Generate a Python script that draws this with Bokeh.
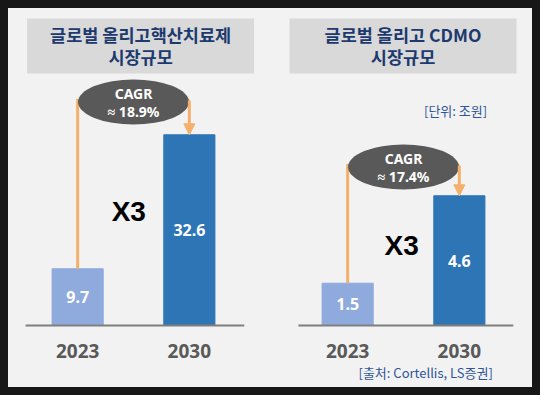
import re
from bokeh.plotting import figure
from bokeh.models import FactorRange, Range1d, Arrow, NormalHead, Title
from bokeh.layouts import row
from bokeh.embed import file_html
from bokeh.resources import INLINE
from bokeh.core.properties import value

# ---- data ----
years = ["2023", "2030"]
olig_values = [9.7, 32.6]
cdmo_values = [1.5, 4.6]
olig_cagr = ["CAGR", "≈ 18.9%"]
cdmo_cagr = ["CAGR", "≈ 17.4%"]
olig_title = ["글로벌 올리고핵산치료제", "시장규모"]
cdmo_title = ["글로벌 올리고 CDMO", "시장규모"]
multiplier = "X3"
unit_note = "[단위: 조원]"
source_note = "[출처: Cortellis, LS증권]"

# ---- styles ----
BAR_COLORS = ["#8faadc", "#2e75b6"]
ORANGE = "#f4b06a"
ELLIPSE = "#595959"
BG = "#f2f2f2"
TITLE_BG = "#d9d9d9"
NAVY = "#1c3a6e"
NOTE = "#2f5597"
KR = "Noto Sans CJK KR"

W, H = 262, 379
FRAME_W = 250
PAD = 0.119
PX = FRAME_W / (len(years) + PAD)
BASE = 317
BOTTOM = 60


def make_panel(vals, title_lines, ymax, left_border, cagr, line_fy, x3_fxy,
               unit=None, source=None, base_from=11, base_to=242):
    k = BASE / ymax

    def xd(fx):
        return (fx - left_border) / PX - PAD / 2

    def yd(fy):
        return (BASE - fy) / k

    p = figure(width=W, height=H, output_backend="svg", toolbar_location=None,
               x_range=FactorRange(*years, range_padding=PAD, range_padding_units="absolute"),
               y_range=Range1d(-2 / k, ymax),
               min_border_left=left_border, min_border_right=W - left_border - FRAME_W,
               min_border_top=0, min_border_bottom=BOTTOM,
               background_fill_color=BG, border_fill_color=BG, outline_line_color=None)
    p.yaxis.visible = False
    p.grid.visible = False
    ax = p.xaxis[0]
    ax.axis_line_color = None
    ax.major_tick_line_color = None
    ax.minor_tick_line_color = None
    ax.major_label_standoff = 10
    ax.major_label_text_font = "Noto Sans"
    ax.major_label_text_font_style = "bold"
    ax.major_label_text_font_size = "19px"
    ax.major_label_text_color = "#595959"

    # title box
    p.rect(x=[xd(132.5)], y=[yd(37.5)], width=227, height=55,
           width_units="screen", height_units="screen",
           fill_color=TITLE_BG, line_color=None)
    p.text(x=[xd(132.5)] * 2, y=[yd(25.5), yd(48)], text=title_lines,
           text_align="center", text_baseline="middle",
           text_font=value(KR), text_font_style="bold", text_font_size="17.5px",
           text_color=NAVY)

    # bars
    p.vbar(x=years, top=vals, bottom=0, width=54 / PX, color=BAR_COLORS)
    p.text(x=years, y=[v / 2 for v in vals], text=[f"{v}" for v in vals],
           text_align="center", text_baseline="middle",
           text_font=value("Noto Sans"), text_font_style="bold",
           text_font_size="16px", text_color="white")

    # baseline
    p.segment(x0=[xd(base_from)], y0=[0], x1=[xd(base_to)], y1=[0],
              line_color="#7f7f7f", line_width=2)

    # CAGR connector
    yl = yd(line_fy)
    c0, c1 = 0.5, len(years) - 0.5
    p.line(x=[c0, c0, c1, c1], y=[vals[0], yl, yl, yl], line_color=ORANGE,
           line_width=3, line_join="miter")
    p.add_layout(Arrow(x_start=c1, y_start=yl, x_end=c1, y_end=vals[1],
                       line_color=ORANGE, line_width=3,
                       end=NormalHead(size=11, fill_color=ORANGE, line_color=ORANGE)))
    mid = (c0 + c1) / 2
    ey = line_fy + 1.5
    p.ellipse(x=[mid], y=[yd(ey)], width=111, height=45,
              width_units="screen", height_units="screen",
              fill_color=ELLIPSE, line_color=None)
    p.text(x=[mid, mid], y=[yd(ey - 8.5), yd(ey + 9.5)], text=cagr,
           text_align="center", text_baseline="middle",
           text_font=value("Noto Sans"), text_font_style="bold",
           text_font_size="14px", text_color="white")

    # multiplier
    p.text(x=[xd(x3_fxy[0])], y=[yd(x3_fxy[1])], text=[multiplier],
           text_align="center", text_baseline="middle",
           text_font=value("Liberation Sans"), text_font_style="bold",
           text_font_size="28px", text_color="black")

    if unit:
        p.text(x=[xd(188)], y=[yd(102)], text=[unit], text_align="center",
               text_baseline="middle", text_font=value(KR), text_font_size="13px",
               text_color=NOTE)
    if source:
        p.add_layout(Title(text=source, align="left", offset=88 - left_border,
                           text_font=KR, text_font_size="13px",
                           text_font_style="normal", text_color=NOTE,
                           standoff=0), "below")
    return p


left = make_panel(olig_values, olig_title, 317 / 5.85, 0, olig_cagr, 92, (120, 203))
right = make_panel(cdmo_values, cdmo_title, 317 / 28.2, 8, cdmo_cagr, 157, (131, 237),
                   unit=unit_note, source=source_note, base_from=22, base_to=249)

layout = row(left, right, spacing=0, styles={"background-color": BG})
html = file_html(layout, INLINE)
page_css = ("<style>html, body { background-color:#171717 !important; "
            "margin:0 !important; padding:0 !important; } "
            "body { padding:8px !important; box-sizing:border-box; }</style>")
html = re.sub(r"</head>", page_css + "</head>", html, count=1)
open("out.html", "w").write(html)
